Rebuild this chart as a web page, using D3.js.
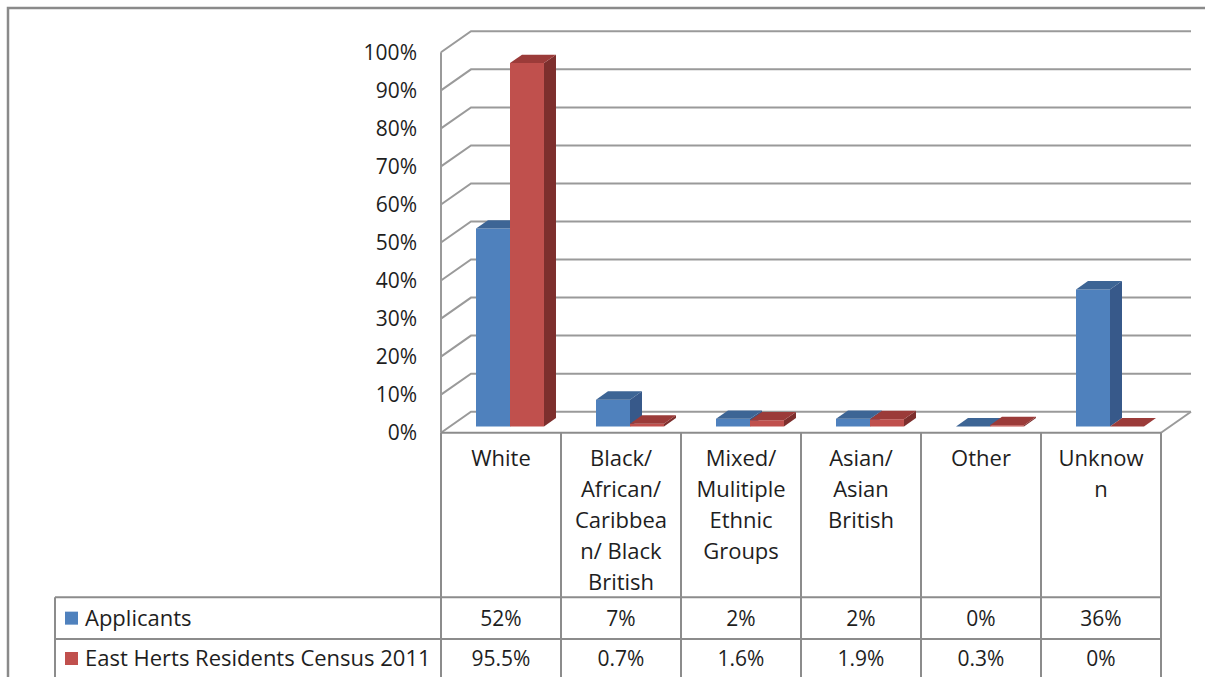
<!DOCTYPE html>
<html>
<head>
<meta charset="utf-8">
<script src="https://cdn.jsdelivr.net/npm/d3@7"></script>
<style>
  html, body { margin: 0; padding: 0; background: #fff; }
  svg { display: block; }
  text { font-family: "Open Sans", Lato, sans-serif; fill: #1e1e1e; }
</style>
</head>
<body>
<svg id="chart" width="1205" height="677"></svg>
<script>
// ---- data ----
const categories = ["White", "Black/ African/ Caribbean/ Black British", "Mixed/ Mulitiple Ethnic Groups", "Asian/ Asian British", "Other", "Unknown"];
const categoryLines = [
  ["White"],
  ["Black/", "African/", "Caribbea", "n/ Black", "British"],
  ["Mixed/", "Mulitiple", "Ethnic", "Groups"],
  ["Asian/", "Asian", "British"],
  ["Other"],
  ["Unknow", "n"]
];
const seriesNames = ["Applicants", "East Herts Residents Census 2011"];
const applicants = [52, 7, 2, 2, 0, 36];
const census = [95.5, 0.7, 1.6, 1.9, 0.3, 0];
const yTicks = [0, 10, 20, 30, 40, 50, 60, 70, 80, 90, 100];

const seriesValues = [applicants, census];
const colors = [
  { front: "#4F81BD", top: "#3D6595", side: "#37598A" },
  { front: "#C0504D", top: "#9B3B39", side: "#7D2F2D" }
];

// ---- layout ----
const svg = d3.select("#chart");
const X0 = 441, X1 = 1161;
const Y0 = 432.7, Y100 = 52.3;
const DX = 30, DY = -21;
const gridColor = "#9a9a9a";
const tableColor = "#8c8c8c";
const FS_NUM = 21, FS_TXT = 22;

const x = d3.scaleBand().domain(categories).range([X0, X1]).padding(0);
const xs = d3.scaleBand().domain(seriesNames).range([0, x.bandwidth()]).paddingInner(0).paddingOuter(0.765);
const y = d3.scaleLinear().domain([0, 100]).range([Y0, Y100]);
const off = d => [DX * d, DY * d];

svg.append("rect").attr("x", 8).attr("y", 8).attr("width", 1250).attr("height", 720)
  .attr("fill", "none").attr("stroke", "#8a8a8a").attr("stroke-width", 2.5);

// ---- walls / gridlines ----
const g = svg.append("g");
yTicks.forEach(t => {
  const yy = y(t);
  g.append("path")
    .attr("d", `M${X0},${yy} L${X0 + DX},${yy + DY} L${X1 + DX},${yy + DY}`)
    .attr("fill", "none").attr("stroke", gridColor).attr("stroke-width", 2);
});
g.append("line").attr("x1", X1).attr("y1", Y0).attr("x2", X1 + DX).attr("y2", Y0 + DY)
  .attr("stroke", gridColor).attr("stroke-width", 2);
g.append("line").attr("x1", X0).attr("y1", y(100)).attr("x2", X0).attr("y2", Y0)
  .attr("stroke", gridColor).attr("stroke-width", 2);

svg.append("g").selectAll("text").data(yTicks).join("text")
  .attr("x", 417).attr("y", d => y(d)).attr("dy", "0.36em")
  .attr("text-anchor", "end").attr("font-size", FS_NUM)
  .text(d => d + "%");

// ---- bars ----
const d0 = 0.3, d1 = 0.7;
const bars = svg.append("g");
categories.forEach((c, i) => {
  seriesNames.forEach((s, k) => {
    const v = seriesValues[k][i];
    const xa = x(c) + xs(s), xb = xa + xs.bandwidth();
    const [ox0, oy0] = off(d0), [ox1, oy1] = off(d1);
    const yb = y(0), yt = y(v);
    const col = colors[k];
    bars.append("path")
      .attr("d", `M${xb + ox0},${yb + oy0} L${xb + ox1},${yb + oy1} L${xb + ox1},${yt + oy1} L${xb + ox0},${yt + oy0}Z`)
      .attr("fill", col.side);
    bars.append("path")
      .attr("d", `M${xa + ox0},${yb + oy0} L${xb + ox0},${yb + oy0} L${xb + ox0},${yt + oy0} L${xa + ox0},${yt + oy0}Z`)
      .attr("fill", col.front);
    bars.append("path")
      .attr("d", `M${xa + ox0},${yt + oy0} L${xb + ox0},${yt + oy0} L${xb + ox1},${yt + oy1} L${xa + ox1},${yt + oy1}Z`)
      .attr("fill", col.top);
  });
});

// ---- data table ----
const TL = 55;
const rowTop = 597.3, rowMid = 639, rowBot = 680;
const tg = svg.append("g");
const tline = (x1, y1, x2, y2) => tg.append("line")
  .attr("x1", x1).attr("y1", y1).attr("x2", x2).attr("y2", y2)
  .attr("stroke", tableColor).attr("stroke-width", 2);

tline(X0, Y0, X1, Y0);
x.domain().forEach(c => tline(x(c), Y0, x(c), rowBot));
tline(X1, Y0, X1, rowBot);
tline(TL, rowTop, TL, rowBot);
tline(TL, rowTop, X1, rowTop);
tline(TL, rowMid, X1, rowMid);
tline(TL, rowBot - 2, X1, rowBot - 2);

categories.forEach((c, i) => {
  const cx = x(c) + x.bandwidth() / 2;
  svg.append("g").selectAll("text").data(categoryLines[i]).join("text")
    .attr("x", cx).attr("y", (d, j) => 458 + j * 31).attr("dy", "0.36em")
    .attr("text-anchor", "middle").attr("font-size", FS_TXT)
    .text(d => d);
});

const rowCenters = [(rowTop + rowMid) / 2, (rowMid + rowBot) / 2 - 1];
seriesNames.forEach((s, k) => {
  const cy = rowCenters[k];
  svg.append("rect").attr("x", 65).attr("y", cy - 6.5).attr("width", 13).attr("height", 13)
    .attr("fill", colors[k].front);
  svg.append("text").attr("x", 85).attr("y", cy).attr("dy", "0.36em")
    .attr("font-size", FS_TXT).text(s);
  svg.append("g").selectAll("text").data(seriesValues[k]).join("text")
    .attr("x", (d, i) => x(categories[i]) + x.bandwidth() / 2)
    .attr("y", cy).attr("dy", "0.36em")
    .attr("text-anchor", "middle").attr("font-size", FS_NUM)
    .text(d => d + "%");
});
</script>
</body>
</html>
